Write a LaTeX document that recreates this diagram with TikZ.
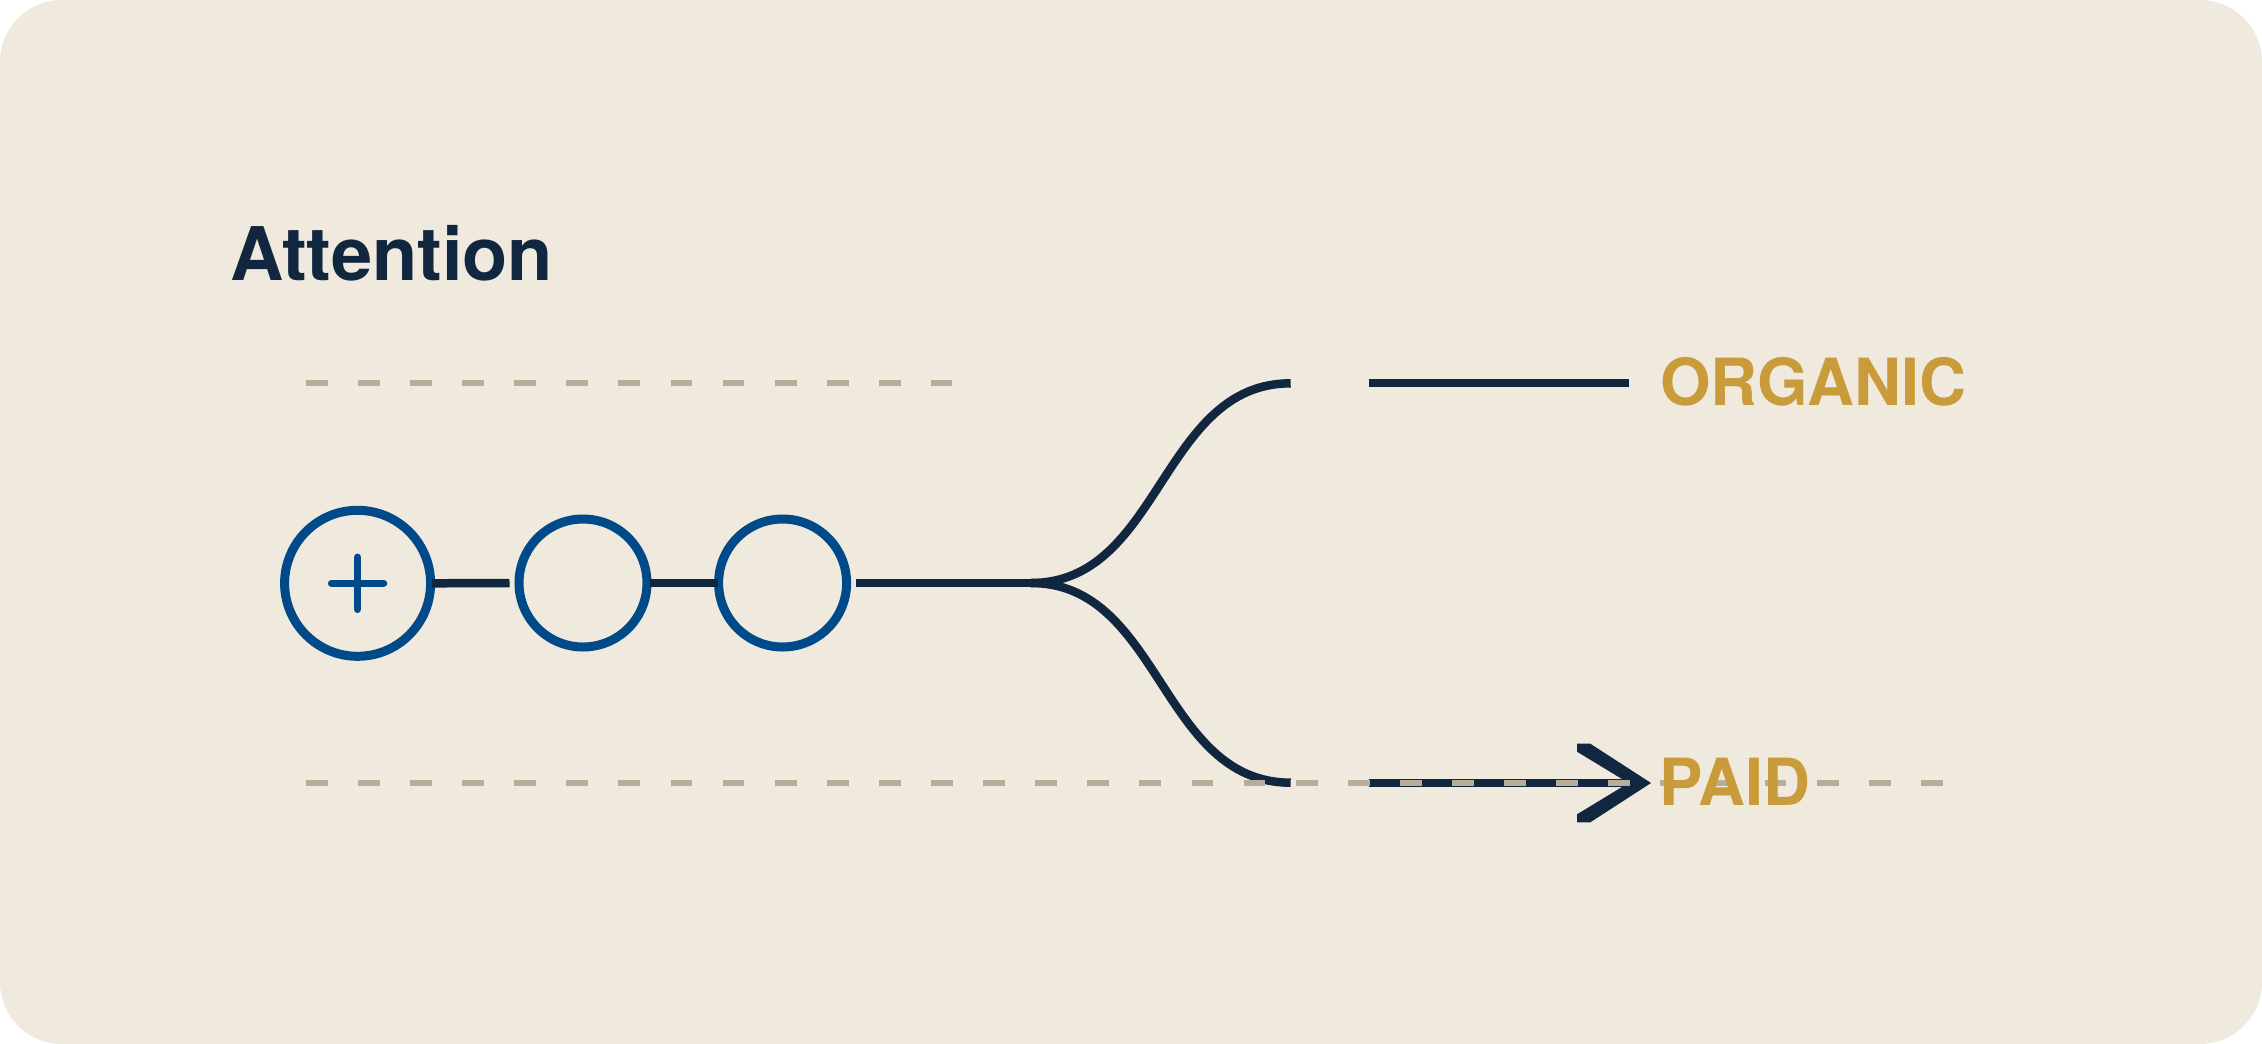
\documentclass[tikz,border=0pt]{standalone}
\usepackage{fontspec}
\setmainfont{TeX Gyre Heros}
\definecolor{bgcol}{RGB}{239,233,222}
\definecolor{navy}{RGB}{17,39,63}
\definecolor{ringblue}{RGB}{0,74,138}
\definecolor{gold}{RGB}{201,155,58}
\definecolor{tan}{RGB}{184,173,150}
\begin{document}
\begin{tikzpicture}[x=1pt,y=-1pt,
  ring/.style={circle,draw=ringblue,line width=9pt,inner sep=0pt,outer sep=auto},
  link/.style={draw=navy,line width=8.5pt,line cap=butt},
  guide/.style={draw=tan,line width=6pt,dash pattern=on 21.8pt off 30.3pt},
  label/.style={inner sep=0pt,anchor=base west,text=gold,font=\bfseries\fontsize{65}{70}\selectfont},
  title/.style={inner sep=0pt,anchor=base west,text=navy,font=\bfseries\fontsize{74}{80}\selectfont}]
\useasboundingbox (0,0) rectangle (2262,1044);
\fill[white] (0,0) rectangle (2262,1044);
\fill[bgcol,rounded corners=62pt] (0,0) rectangle (2262,1044);

% title
\node[title] (title) at (230,280) {Attention};

% top guide
\coordinate (gTa) at (305.8,383);
\coordinate (gTb) at (952.3,383);
\draw[guide] (gTa) -- (gTb);

% circles
\node[ring,minimum size=146pt] (c1) at (357.6,583.3) {};
\node[ring,minimum size=128pt] (c2) at (583,583) {};
\node[ring,minimum size=128pt] (c3) at (782.6,583) {};
\draw[ringblue,line width=7.5pt,line cap=round]
  ([xshift=-26pt]c1.center) -- ([xshift=26pt]c1.center)
  ([yshift=26pt]c1.center) -- ([yshift=-26pt]c1.center);

% connectors
\coordinate (split) at (1031,583);
\coordinate (orgL) at (1290.7,383.3);
\coordinate (paidL) at (1290.7,782.7);
\draw[link] ([xshift=-3pt]c1.east) -- ([xshift=-5pt]c2.west);
\draw[link] ([xshift=-2pt]c2.east) -- ([xshift=4pt]c3.west);
\draw[link] ([xshift=5pt]c3.east) -- (split);
\draw[link] (split) .. controls +(130,0) and +(-130,0) .. (orgL);
\draw[link] (split) .. controls +(130,0) and +(-130,0) .. (paidL);

% right-hand segments
\coordinate (orgA) at (1369,383);
\coordinate (orgB) at (1629,383);
\draw[link] (orgA) -- (orgB);
\coordinate (paidA) at (1369,783);
\coordinate (tip) at (1651,783);
\draw[link] (paidA) -- ([xshift=-16pt]tip);
\fill[navy] ([shift={(-74,-39.3)}]tip) -- ([shift={(-60.7,-39.3)}]tip) -- (tip)
  -- ([shift={(-60.7,39.3)}]tip) -- ([shift={(-74,39.3)}]tip)
  -- ([shift={(-74,31.3)}]tip) -- ([shift={(-22.4,0)}]tip)
  -- ([shift={(-74,-31.3)}]tip) -- cycle;

% bottom guide (on top of the lines)
\coordinate (gBa) at (305.8,783);
\coordinate (gBb) at (1942.7,783);
\draw[guide] (gBa) -- (gBb);

% labels
\node[label] (organic) at (1660,405) {ORGANIC};
\node[label] (paid) at (1659,805) {PAID};
\end{tikzpicture}
\end{document}
